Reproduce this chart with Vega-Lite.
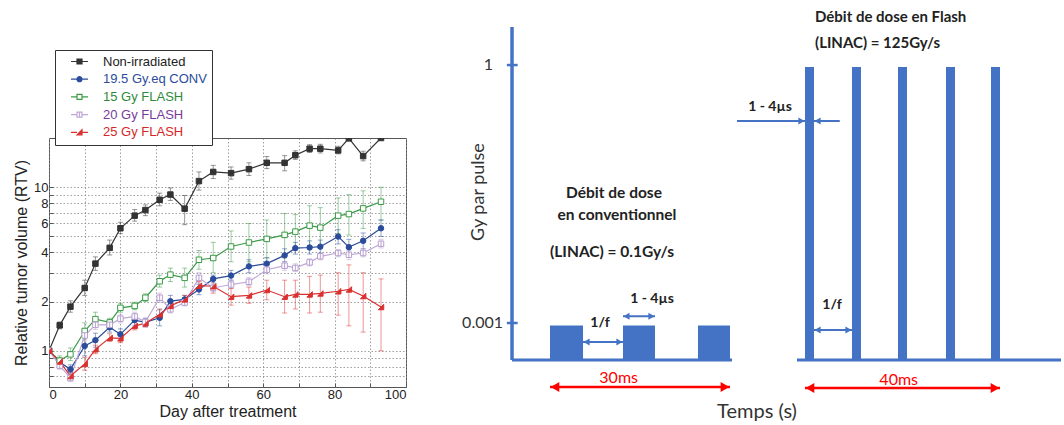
{
  "$schema": "https://vega.github.io/schema/vega-lite/v6.json",
  "padding": {"left": 13, "top": 9, "right": 0, "bottom": 0},
  "bounds": "flush",
  "spacing": 21,
  "config": {"view": {"stroke": "#555"}, "font": "Liberation Sans"},
  "datasets": {
    "tumor": [
      {"series":"Non-irradiated","day":0,"v":1,"lo":1,"hi":1},
      {"series":"Non-irradiated","day":3,"v":1.43,"lo":1.36,"hi":1.5},
      {"series":"Non-irradiated","day":6,"v":1.86,"lo":1.72,"hi":2.02},
      {"series":"Non-irradiated","day":10,"v":2.42,"lo":2.18,"hi":2.7},
      {"series":"Non-irradiated","day":13,"v":3.41,"lo":3.1,"hi":3.75},
      {"series":"Non-irradiated","day":17,"v":4.26,"lo":3.85,"hi":4.75},
      {"series":"Non-irradiated","day":20,"v":5.61,"lo":5.2,"hi":6.1},
      {"series":"Non-irradiated","day":24,"v":6.7,"lo":6.2,"hi":7.3},
      {"series":"Non-irradiated","day":27,"v":7.25,"lo":6.7,"hi":7.8},
      {"series":"Non-irradiated","day":31,"v":8.38,"lo":7.7,"hi":9.2},
      {"series":"Non-irradiated","day":34,"v":9.02,"lo":8.3,"hi":9.9},
      {"series":"Non-irradiated","day":38,"v":7.39,"lo":5.9,"hi":8.9},
      {"series":"Non-irradiated","day":42,"v":10.9,"lo":9.6,"hi":12.4},
      {"series":"Non-irradiated","day":46,"v":12.4,"lo":11.3,"hi":13.6},
      {"series":"Non-irradiated","day":51,"v":12.2,"lo":11.2,"hi":13.3},
      {"series":"Non-irradiated","day":56,"v":12.9,"lo":11.8,"hi":14.1},
      {"series":"Non-irradiated","day":61,"v":14.1,"lo":13.0,"hi":15.4},
      {"series":"Non-irradiated","day":66,"v":14.1,"lo":12.6,"hi":15.6},
      {"series":"Non-irradiated","day":69,"v":15.7,"lo":14.8,"hi":16.7},
      {"series":"Non-irradiated","day":73,"v":17.2,"lo":16.3,"hi":18.2},
      {"series":"Non-irradiated","day":76,"v":17.2,"lo":16.2,"hi":18.3},
      {"series":"Non-irradiated","day":81,"v":16.8,"lo":16.0,"hi":17.8},
      {"series":"Non-irradiated","day":84,"v":19.9,"lo":19.9,"hi":19.9},
      {"series":"Non-irradiated","day":88,"v":15.5,"lo":14.5,"hi":16.6},
      {"series":"Non-irradiated","day":93,"v":20.0,"lo":20.0,"hi":20.0},
      {"series":"19.5 Gy.eq CONV","day":0,"v":1,"lo":1,"hi":1},
      {"series":"19.5 Gy.eq CONV","day":3,"v":0.85,"lo":0.8,"hi":0.9},
      {"series":"19.5 Gy.eq CONV","day":6,"v":0.77,"lo":0.73,"hi":0.82},
      {"series":"19.5 Gy.eq CONV","day":10,"v":1.07,"lo":0.93,"hi":1.22},
      {"series":"19.5 Gy.eq CONV","day":13,"v":1.16,"lo":1.05,"hi":1.28},
      {"series":"19.5 Gy.eq CONV","day":17,"v":1.39,"lo":1.3,"hi":1.48},
      {"series":"19.5 Gy.eq CONV","day":20,"v":1.26,"lo":1.17,"hi":1.36},
      {"series":"19.5 Gy.eq CONV","day":24,"v":1.54,"lo":1.42,"hi":1.67},
      {"series":"19.5 Gy.eq CONV","day":27,"v":1.49,"lo":1.4,"hi":1.58},
      {"series":"19.5 Gy.eq CONV","day":31,"v":1.59,"lo":1.42,"hi":1.78},
      {"series":"19.5 Gy.eq CONV","day":34,"v":2.01,"lo":1.85,"hi":2.18},
      {"series":"19.5 Gy.eq CONV","day":38,"v":2.06,"lo":1.95,"hi":2.18},
      {"series":"19.5 Gy.eq CONV","day":42,"v":2.37,"lo":2.2,"hi":2.55},
      {"series":"19.5 Gy.eq CONV","day":46,"v":2.75,"lo":2.6,"hi":2.9},
      {"series":"19.5 Gy.eq CONV","day":51,"v":2.88,"lo":2.7,"hi":3.1},
      {"series":"19.5 Gy.eq CONV","day":56,"v":3.28,"lo":3.0,"hi":3.6},
      {"series":"19.5 Gy.eq CONV","day":61,"v":3.41,"lo":3.15,"hi":3.7},
      {"series":"19.5 Gy.eq CONV","day":66,"v":3.83,"lo":3.5,"hi":4.2},
      {"series":"19.5 Gy.eq CONV","day":69,"v":4.24,"lo":3.9,"hi":4.6},
      {"series":"19.5 Gy.eq CONV","day":73,"v":4.28,"lo":3.9,"hi":4.7},
      {"series":"19.5 Gy.eq CONV","day":76,"v":4.33,"lo":3.95,"hi":4.75},
      {"series":"19.5 Gy.eq CONV","day":81,"v":4.99,"lo":4.5,"hi":5.5},
      {"series":"19.5 Gy.eq CONV","day":84,"v":4.3,"lo":3.85,"hi":4.8},
      {"series":"19.5 Gy.eq CONV","day":88,"v":4.7,"lo":4.2,"hi":5.25},
      {"series":"19.5 Gy.eq CONV","day":93,"v":5.61,"lo":5.0,"hi":6.3},
      {"series":"15 Gy FLASH","day":0,"v":1,"lo":1,"hi":1},
      {"series":"15 Gy FLASH","day":3,"v":0.87,"lo":0.82,"hi":0.93},
      {"series":"15 Gy FLASH","day":6,"v":0.95,"lo":0.87,"hi":1.04},
      {"series":"15 Gy FLASH","day":10,"v":1.32,"lo":1.18,"hi":1.48},
      {"series":"15 Gy FLASH","day":13,"v":1.56,"lo":1.42,"hi":1.72},
      {"series":"15 Gy FLASH","day":17,"v":1.49,"lo":1.4,"hi":1.58},
      {"series":"15 Gy FLASH","day":20,"v":1.83,"lo":1.72,"hi":1.95},
      {"series":"15 Gy FLASH","day":24,"v":1.88,"lo":1.78,"hi":1.98},
      {"series":"15 Gy FLASH","day":27,"v":2.11,"lo":2.0,"hi":2.23},
      {"series":"15 Gy FLASH","day":31,"v":2.66,"lo":2.45,"hi":2.9},
      {"series":"15 Gy FLASH","day":34,"v":2.92,"lo":2.65,"hi":3.2},
      {"series":"15 Gy FLASH","day":38,"v":2.79,"lo":2.45,"hi":3.2},
      {"series":"15 Gy FLASH","day":42,"v":3.6,"lo":3.15,"hi":4.1},
      {"series":"15 Gy FLASH","day":46,"v":3.69,"lo":3.0,"hi":4.6},
      {"series":"15 Gy FLASH","day":51,"v":4.34,"lo":3.5,"hi":5.4},
      {"series":"15 Gy FLASH","day":56,"v":4.59,"lo":3.5,"hi":6.0},
      {"series":"15 Gy FLASH","day":61,"v":4.83,"lo":3.7,"hi":6.3},
      {"series":"15 Gy FLASH","day":66,"v":5.11,"lo":3.7,"hi":6.9},
      {"series":"15 Gy FLASH","day":69,"v":5.35,"lo":4.2,"hi":6.8},
      {"series":"15 Gy FLASH","day":73,"v":5.82,"lo":4.4,"hi":7.7},
      {"series":"15 Gy FLASH","day":76,"v":5.66,"lo":4.4,"hi":7.5},
      {"series":"15 Gy FLASH","day":81,"v":6.7,"lo":5.2,"hi":8.6},
      {"series":"15 Gy FLASH","day":84,"v":6.85,"lo":5.1,"hi":9.0},
      {"series":"15 Gy FLASH","day":88,"v":7.42,"lo":5.6,"hi":9.5},
      {"series":"15 Gy FLASH","day":93,"v":8.15,"lo":6.3,"hi":10.0},
      {"series":"20 Gy FLASH","day":0,"v":1,"lo":1,"hi":1},
      {"series":"20 Gy FLASH","day":3,"v":0.81,"lo":0.77,"hi":0.86},
      {"series":"20 Gy FLASH","day":6,"v":0.68,"lo":0.65,"hi":0.72},
      {"series":"20 Gy FLASH","day":10,"v":1.24,"lo":1.15,"hi":1.34},
      {"series":"20 Gy FLASH","day":13,"v":1.44,"lo":1.35,"hi":1.53},
      {"series":"20 Gy FLASH","day":17,"v":1.44,"lo":1.37,"hi":1.52},
      {"series":"20 Gy FLASH","day":20,"v":1.57,"lo":1.48,"hi":1.66},
      {"series":"20 Gy FLASH","day":24,"v":1.62,"lo":1.52,"hi":1.72},
      {"series":"20 Gy FLASH","day":27,"v":1.5,"lo":1.42,"hi":1.58},
      {"series":"20 Gy FLASH","day":31,"v":2.11,"lo":1.98,"hi":2.25},
      {"series":"20 Gy FLASH","day":34,"v":1.79,"lo":1.7,"hi":1.88},
      {"series":"20 Gy FLASH","day":38,"v":1.97,"lo":1.88,"hi":2.06},
      {"series":"20 Gy FLASH","day":42,"v":2.79,"lo":2.6,"hi":3.0},
      {"series":"20 Gy FLASH","day":46,"v":2.42,"lo":2.3,"hi":2.55},
      {"series":"20 Gy FLASH","day":51,"v":2.54,"lo":2.4,"hi":2.7},
      {"series":"20 Gy FLASH","day":56,"v":2.64,"lo":2.5,"hi":2.8},
      {"series":"20 Gy FLASH","day":61,"v":3.13,"lo":2.95,"hi":3.3},
      {"series":"20 Gy FLASH","day":66,"v":3.31,"lo":3.1,"hi":3.5},
      {"series":"20 Gy FLASH","day":69,"v":3.21,"lo":3.05,"hi":3.4},
      {"series":"20 Gy FLASH","day":73,"v":3.47,"lo":3.3,"hi":3.65},
      {"series":"20 Gy FLASH","day":76,"v":3.78,"lo":3.6,"hi":3.95},
      {"series":"20 Gy FLASH","day":81,"v":3.96,"lo":3.75,"hi":4.15},
      {"series":"20 Gy FLASH","day":84,"v":3.86,"lo":3.6,"hi":4.1},
      {"series":"20 Gy FLASH","day":88,"v":3.96,"lo":3.75,"hi":4.2},
      {"series":"20 Gy FLASH","day":93,"v":4.51,"lo":4.25,"hi":4.8},
      {"series":"25 Gy FLASH","day":0,"v":1,"lo":1,"hi":1},
      {"series":"25 Gy FLASH","day":3,"v":0.86,"lo":0.82,"hi":0.9},
      {"series":"25 Gy FLASH","day":6,"v":0.7,"lo":0.66,"hi":0.74},
      {"series":"25 Gy FLASH","day":10,"v":0.83,"lo":0.76,"hi":0.91},
      {"series":"25 Gy FLASH","day":13,"v":1.02,"lo":0.96,"hi":1.08},
      {"series":"25 Gy FLASH","day":17,"v":1.2,"lo":1.14,"hi":1.27},
      {"series":"25 Gy FLASH","day":20,"v":1.19,"lo":1.12,"hi":1.26},
      {"series":"25 Gy FLASH","day":24,"v":1.42,"lo":1.34,"hi":1.5},
      {"series":"25 Gy FLASH","day":27,"v":1.47,"lo":1.4,"hi":1.55},
      {"series":"25 Gy FLASH","day":31,"v":1.67,"lo":1.55,"hi":1.8},
      {"series":"25 Gy FLASH","day":34,"v":1.88,"lo":1.75,"hi":2.02},
      {"series":"25 Gy FLASH","day":38,"v":2.06,"lo":1.95,"hi":2.18},
      {"series":"25 Gy FLASH","day":42,"v":2.5,"lo":2.35,"hi":2.65},
      {"series":"25 Gy FLASH","day":46,"v":2.48,"lo":2.25,"hi":2.72},
      {"series":"25 Gy FLASH","day":51,"v":2.14,"lo":1.9,"hi":2.4},
      {"series":"25 Gy FLASH","day":56,"v":2.18,"lo":1.95,"hi":2.45},
      {"series":"25 Gy FLASH","day":61,"v":2.35,"lo":2.05,"hi":2.7},
      {"series":"25 Gy FLASH","day":66,"v":2.14,"lo":1.7,"hi":2.7},
      {"series":"25 Gy FLASH","day":69,"v":2.21,"lo":1.8,"hi":2.7},
      {"series":"25 Gy FLASH","day":73,"v":2.21,"lo":1.7,"hi":2.85},
      {"series":"25 Gy FLASH","day":76,"v":2.24,"lo":1.72,"hi":2.9},
      {"series":"25 Gy FLASH","day":81,"v":2.31,"lo":1.65,"hi":3.0},
      {"series":"25 Gy FLASH","day":84,"v":2.37,"lo":1.42,"hi":3.35},
      {"series":"25 Gy FLASH","day":88,"v":2.16,"lo":1.3,"hi":3.0},
      {"series":"25 Gy FLASH","day":93,"v":1.85,"lo":1.0,"hi":2.75}
    ],
    "segs": [
      {"part":"axis","x":13.41,"x2":13.41,"y":144.6,"y2":10.84},
      {"part":"base","x":13.41,"x2":48.11,"y":10.84,"y2":10.84},
      {"part":"base","x":58.36,"x2":100,"y":10.84,"y2":10.84},
      {"part":"tick","x":12.6,"x2":14.3,"y":129.3,"y2":129.3},
      {"part":"tick","x":12.6,"x2":14.3,"y":25.7,"y2":25.7},
      {"part":"blue","x":24.61,"x2":30.91,"y":18.07,"y2":18.07},
      {"part":"blue","x":30.91,"x2":35.96,"y":28.4,"y2":28.4},
      {"part":"blue","x":48.9,"x2":59.62,"y":106.83,"y2":106.83},
      {"part":"blue","x":61.04,"x2":65.1,"y":106.83,"y2":106.83},
      {"part":"blue","x":61.04,"x2":67.03,"y":22.89,"y2":22.89},
      {"part":"red","x":19.4,"x2":47.79,"y":0,"y2":0},
      {"part":"red","x":59.62,"x2":90.38,"y":-0.4,"y2":-0.4}
    ],
    "pulses": [
      {"mode":"conv","x":19.4,"x2":24.61,"y":10.84,"y2":24.7},
      {"mode":"conv","x":30.91,"x2":35.96,"y":10.84,"y2":24.7},
      {"mode":"conv","x":42.74,"x2":47.79,"y":10.84,"y2":24.7},
      {"mode":"flash","x":59.62,"x2":61.04,"y":10.84,"y2":128.5},
      {"mode":"flash","x":67.03,"x2":68.45,"y":10.84,"y2":128.5},
      {"mode":"flash","x":74.29,"x2":75.71,"y":10.84,"y2":128.5},
      {"mode":"flash","x":81.86,"x2":83.28,"y":10.84,"y2":128.5},
      {"mode":"flash","x":88.96,"x2":90.38,"y":10.84,"y2":128.5}
    ],
    "heads": [
      {"part":"blue","dir":"left","x":25.17,"y":18.07},
      {"part":"blue","dir":"right","x":30.35,"y":18.07},
      {"part":"blue","dir":"left","x":31.47,"y":28.4},
      {"part":"blue","dir":"right","x":35.4,"y":28.4},
      {"part":"blue","dir":"right","x":59.06,"y":106.83},
      {"part":"blue","dir":"left","x":61.6,"y":106.83},
      {"part":"blue","dir":"left","x":61.6,"y":22.89},
      {"part":"blue","dir":"right","x":66.47,"y":22.89},
      {"part":"red","dir":"left","x":20.19,"y":0},
      {"part":"red","dir":"right","x":47.0,"y":0},
      {"part":"red","dir":"left","x":60.41,"y":-0.4},
      {"part":"red","dir":"right","x":89.59,"y":-0.4}
    ],
    "labels": [
      {"role":"tick","t":"1","x":10.41,"y":129.3},
      {"role":"tick","t":"0.001","x":11.99,"y":25.7},
      {"role":"ytitle","t":"Gy par pulse","x":8.2,"y":78.3},
      {"role":"bold","t":"Débit de dose","x":29.5,"y":77.9},
      {"role":"bold","t":"en conventionnel","x":29.97,"y":69.1},
      {"role":"bold","t":"(LINAC) = 0.1Gy/s","x":29.18,"y":54.2},
      {"role":"small","t":"1/f","x":27.29,"y":25.8},
      {"role":"small","t":"1 - 4µs","x":35.49,"y":35.2},
      {"role":"small","t":"1 - 4µs","x":54.1,"y":112.6},
      {"role":"small","t":"1/f","x":63.88,"y":32.9},
      {"role":"red","t":"30ms","x":30.23,"y":3.5},
      {"role":"red","t":"40ms","x":74.4,"y":2.8},
      {"role":"boldleft","t":"Débit de dose en Flash","x":61.2,"y":148.6},
      {"role":"boldleft","t":"(LINAC) = 125Gy/s","x":61.2,"y":138.0},
      {"role":"xtitle","t":"Temps (s)","x":52.05,"y":-9.9}
    ]
  },
  "hconcat": [
    {
      "width": 357,
      "height": 249,
      "data": {"name": "tumor"},
      "encoding": {
        "x": {
          "field": "day", "type": "quantitative",
          "scale": {"domain": [0, 100], "nice": false, "zero": false},
          "axis": {
            "values": [0, 10, 20, 30, 40, 50, 60, 70, 80, 90, 100],
            "labelExpr": "datum.value % 20 === 0 ? datum.label : ''",
            "grid": true, "gridDash": [1.5, 2], "gridColor": "#888", "gridOpacity": 0.8,
            "domain": false, "tickSize": -4, "tickColor": "#555",
            "labelFont": "Liberation Sans", "labelFontSize": 13, "labelColor": "#222", "labelPadding": 5,
            "title": "Day after treatment", "titleFont": "Liberation Sans", "titleFontSize": 16,
            "titleFontWeight": "normal", "titleColor": "#222", "titlePadding": 2
          }
        }
      },
      "layer": [
        {
          "mark": {"type": "line", "strokeWidth": 1.2, "clip": true},
          "encoding": {
            "y": {
              "field": "v", "type": "quantitative",
              "scale": {"type": "log", "domain": [0.6, 20], "nice": false},
              "axis": {
                "values": [0.7, 0.8, 0.9, 1, 2, 3, 4, 5, 6, 7, 8, 9, 10],
                "format": "~g",
                "labelExpr": "indexof([1,2,4,6,8,10], datum.value) >= 0 ? datum.label : ''",
                "grid": true, "gridDash": [1.5, 2], "gridColor": "#888", "gridOpacity": 0.8,
                "domain": false, "tickSize": -4, "tickColor": "#555",
                "labelFont": "Liberation Sans", "labelFontSize": 13, "labelColor": "#222", "labelPadding": 5,
                "title": "Relative tumor volume (RTV)", "titleFont": "Liberation Sans", "titleFontSize": 16,
                "titleFontWeight": "normal", "titleColor": "#222", "titlePadding": 4
              }
            },
            "color": {
              "field": "series", "type": "nominal",
              "scale": {
                "domain": ["Non-irradiated", "19.5 Gy.eq CONV", "15 Gy FLASH", "20 Gy FLASH", "25 Gy FLASH"],
                "range": ["#333333", "#2b4c9b", "#3a9a46", "#c0a8d8", "#d93030"]
              },
              "legend": {
                "orient": "none", "legendX": 6, "legendY": -88, "title": null,
                "strokeColor": "#333", "fillColor": "white", "padding": 5,
                "labelFont": "Liberation Sans", "labelFontSize": 13, "labelLimit": 300,
                "symbolOffset": 13, "labelOffset": 17, "rowPadding": 3.7,
                "symbolSize": 25, "symbolStrokeWidth": 1.2, "symbolOpacity": 1,
                "symbolType": {"expr": "datum.value === 'Non-irradiated' ? 'M-3.4,0H-1M1,0H3.4M-1,-1H1V1H-1Z' : datum.value === '19.5 Gy.eq CONV' ? 'M-3.4,0H-1M1,0H3.4M-1,0A1,1,0,1,0,1,0A1,1,0,1,0,-1,0Z' : datum.value === '15 Gy FLASH' ? 'M-3.4,0H-1M1,0H3.4M-1,-1H1V1H-1Z' : datum.value === '20 Gy FLASH' ? 'M-3.4,0H-1M1,0H3.4M-1,-1H1V1H-1ZM0,-1V1' : 'M-3.4,0H-1M1,0H3.4M-1,1L1,-1V1Z'"},
                "symbolFillColor": {"expr": "datum.value === 'Non-irradiated' ? '#333333' : datum.value === '19.5 Gy.eq CONV' ? '#2b4c9b' : datum.value === '25 Gy FLASH' ? '#d93030' : '#ffffff'"},
                "symbolStrokeColor": {"expr": "datum.value === 'Non-irradiated' ? '#333333' : datum.value === '19.5 Gy.eq CONV' ? '#2b4c9b' : datum.value === '15 Gy FLASH' ? '#3a9a46' : datum.value === '20 Gy FLASH' ? '#b8a0d0' : '#d93030'"},
                "labelColor": {"expr": "datum.value === 'Non-irradiated' ? '#222222' : datum.value === '19.5 Gy.eq CONV' ? '#2b4c9b' : datum.value === '15 Gy FLASH' ? '#2e8b3a' : datum.value === '20 Gy FLASH' ? '#7a3a9c' : '#d62728'"}
              }
            }
          }
        },
        {
          "transform": [{"filter": "datum.hi > datum.lo && datum.day > 0"}],
          "mark": {"type": "rule", "strokeWidth": 1, "opacity": 0.5, "clip": true},
          "encoding": {
            "y": {"field": "lo", "type": "quantitative", "title": "Relative tumor volume (RTV)"},
            "y2": {"field": "hi"},
            "stroke": {
              "field": "series", "type": "nominal", "legend": null,
              "scale": {
                "domain": ["15 Gy FLASH", "19.5 Gy.eq CONV", "20 Gy FLASH", "25 Gy FLASH", "Non-irradiated"],
                "range": ["#3a9a46", "#2b4c9b", "#b8a0d0", "#d93030", "#333333"]
              }
            }
          }
        },
        {
          "transform": [{"filter": "datum.hi > datum.lo && datum.day > 0"}],
          "mark": {"type": "rule", "strokeWidth": 1, "opacity": 0.5, "clip": true, "xOffset": -2.5, "x2Offset": 2.5},
          "encoding": {
            "x2": {"field": "day"},
            "y": {"field": "lo", "type": "quantitative", "title": "Relative tumor volume (RTV)"},
            "stroke": {"field": "series", "type": "nominal", "legend": null}
          }
        },
        {
          "transform": [{"filter": "datum.hi > datum.lo && datum.day > 0"}],
          "mark": {"type": "rule", "strokeWidth": 1, "opacity": 0.5, "clip": true, "xOffset": -2.5, "x2Offset": 2.5},
          "encoding": {
            "x2": {"field": "day"},
            "y": {"field": "hi", "type": "quantitative", "title": "Relative tumor volume (RTV)"},
            "stroke": {"field": "series", "type": "nominal", "legend": null}
          }
        },
        {
          "mark": {"type": "point", "size": 30, "strokeWidth": 1, "opacity": 1, "fillOpacity": 1, "clip": true},
          "encoding": {
            "y": {"field": "v", "type": "quantitative", "title": "Relative tumor volume (RTV)"},
            "shape": {
              "field": "series", "type": "nominal", "legend": null,
              "scale": {
                "domain": ["15 Gy FLASH", "19.5 Gy.eq CONV", "20 Gy FLASH", "25 Gy FLASH", "Non-irradiated"],
                "range": ["square", "circle", "M-1,-1H1V1H-1ZM0,-1V1", "M-1,1L1,-1V1Z", "square"]
              }
            },
            "fill": {
              "field": "series", "type": "nominal", "legend": null,
              "scale": {
                "domain": ["15 Gy FLASH", "19.5 Gy.eq CONV", "20 Gy FLASH", "25 Gy FLASH", "Non-irradiated"],
                "range": ["#ffffff", "#2b4c9b", "#ffffff", "#d93030", "#333333"]
              }
            },
            "stroke": {"field": "series", "type": "nominal", "legend": null}
          }
        }
      ]
    },
    {
      "width": 634,
      "height": 249,
      "view": {"stroke": null},
      "encoding": {
        "x": {"field": "x", "type": "quantitative", "scale": {"domain": [0, 100], "nice": false, "zero": false}, "axis": null},
        "y": {"field": "y", "type": "quantitative", "scale": {"domain": [0, 100], "nice": false, "zero": false}, "axis": null}
      },
      "layer": [
        {
          "data": {"name": "pulses"},
          "mark": {"type": "rect", "color": "#4472c4"},
          "encoding": {"x2": {"field": "x2"}, "y2": {"field": "y2"}}
        },
        {
          "data": {"name": "segs"},
          "transform": [{"filter": "datum.part === 'axis'"}],
          "mark": {"type": "rule", "color": "#4472c4", "strokeWidth": 3.5},
          "encoding": {"x2": {"field": "x2"}, "y2": {"field": "y2"}}
        },
        {
          "data": {"name": "segs"},
          "transform": [{"filter": "datum.part === 'base'"}],
          "mark": {"type": "rule", "color": "#4472c4", "strokeWidth": 3},
          "encoding": {"x2": {"field": "x2"}, "y2": {"field": "y2"}}
        },
        {
          "data": {"name": "segs"},
          "transform": [{"filter": "datum.part === 'tick'"}],
          "mark": {"type": "rule", "color": "#4472c4", "strokeWidth": 2.5},
          "encoding": {"x2": {"field": "x2"}, "y2": {"field": "y2"}}
        },
        {
          "data": {"name": "segs"},
          "transform": [{"filter": "datum.part === 'blue'"}],
          "mark": {"type": "rule", "color": "#4472c4", "strokeWidth": 2},
          "encoding": {"x2": {"field": "x2"}, "y2": {"field": "y2"}}
        },
        {
          "data": {"name": "segs"},
          "transform": [{"filter": "datum.part === 'red'"}],
          "mark": {"type": "rule", "color": "#ff0000", "strokeWidth": 2.5},
          "encoding": {"x2": {"field": "x2"}, "y2": {"field": "y2"}}
        },
        {
          "data": {"name": "heads"},
          "transform": [{"filter": "datum.part === 'blue' && datum.dir === 'left'"}],
          "mark": {"type": "point", "shape": "triangle-left", "filled": true, "color": "#4472c4", "size": 50, "opacity": 1},
          "encoding": {}
        },
        {
          "data": {"name": "heads"},
          "transform": [{"filter": "datum.part === 'blue' && datum.dir === 'right'"}],
          "mark": {"type": "point", "shape": "triangle-right", "filled": true, "color": "#4472c4", "size": 50, "opacity": 1},
          "encoding": {}
        },
        {
          "data": {"name": "heads"},
          "transform": [{"filter": "datum.part === 'red' && datum.dir === 'left'"}],
          "mark": {"type": "point", "shape": "triangle-left", "filled": true, "color": "#ff0000", "size": 100, "opacity": 1},
          "encoding": {}
        },
        {
          "data": {"name": "heads"},
          "transform": [{"filter": "datum.part === 'red' && datum.dir === 'right'"}],
          "mark": {"type": "point", "shape": "triangle-right", "filled": true, "color": "#ff0000", "size": 100, "opacity": 1},
          "encoding": {}
        },
        {
          "data": {"name": "labels"},
          "transform": [{"filter": "datum.role === 'tick'"}],
          "mark": {"type": "text", "align": "right", "baseline": "middle", "font": "Lato", "fontSize": 16, "color": "#333"},
          "encoding": {"text": {"field": "t"}}
        },
        {
          "data": {"name": "labels"},
          "transform": [{"filter": "datum.role === 'ytitle'"}],
          "mark": {"type": "text", "align": "center", "baseline": "middle", "angle": 270, "font": "Lato", "fontSize": 18, "color": "#333"},
          "encoding": {"text": {"field": "t"}}
        },
        {
          "data": {"name": "labels"},
          "transform": [{"filter": "datum.role === 'bold'"}],
          "mark": {"type": "text", "align": "center", "baseline": "middle", "font": "Lato", "fontSize": 15.5, "fontWeight": "bold", "color": "#222"},
          "encoding": {"text": {"field": "t"}}
        },
        {
          "data": {"name": "labels"},
          "transform": [{"filter": "datum.role === 'boldleft'"}],
          "mark": {"type": "text", "align": "left", "baseline": "middle", "font": "Lato", "fontSize": 15, "fontWeight": "bold", "color": "#222"},
          "encoding": {"text": {"field": "t"}}
        },
        {
          "data": {"name": "labels"},
          "transform": [{"filter": "datum.role === 'small'"}],
          "mark": {"type": "text", "align": "center", "baseline": "middle", "font": "Lato", "fontSize": 14, "fontWeight": "bold", "color": "#222"},
          "encoding": {"text": {"field": "t"}}
        },
        {
          "data": {"name": "labels"},
          "transform": [{"filter": "datum.role === 'red'"}],
          "mark": {"type": "text", "align": "center", "baseline": "middle", "font": "Lato", "fontSize": 16, "color": "#ff0000"},
          "encoding": {"text": {"field": "t"}}
        },
        {
          "data": {"name": "labels"},
          "transform": [{"filter": "datum.role === 'xtitle'"}],
          "mark": {"type": "text", "align": "center", "baseline": "middle", "font": "Lato", "fontSize": 20, "color": "#333"},
          "encoding": {"text": {"field": "t"}}
        }
      ]
    }
  ]
}
